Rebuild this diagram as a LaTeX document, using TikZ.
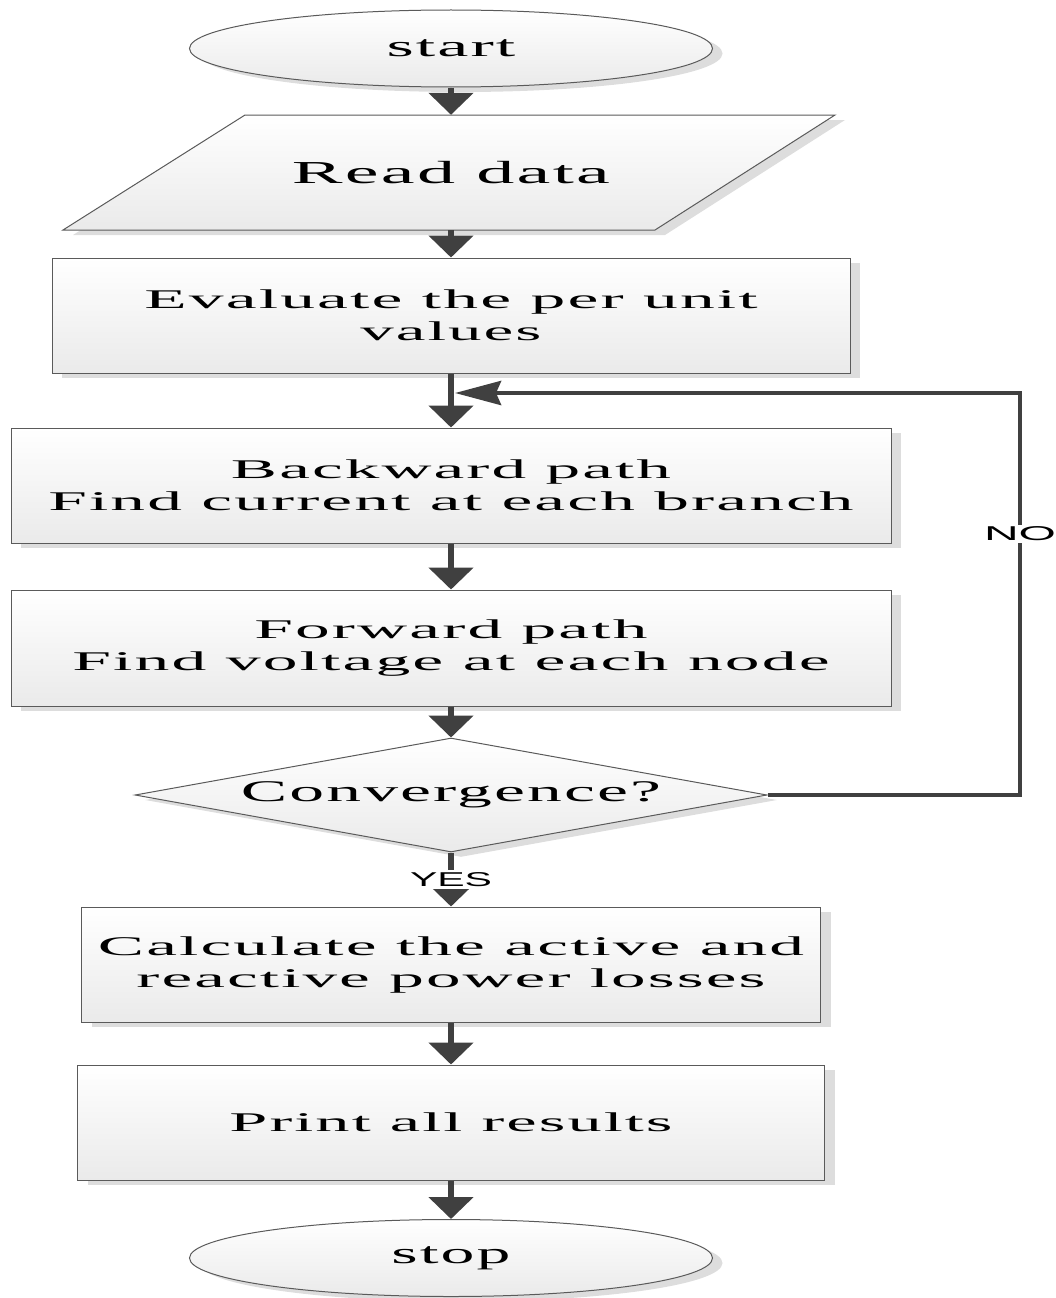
\documentclass[tikz,border=0pt]{standalone}
\usepackage{fontspec}
\setmainfont{Liberation Serif}[LetterSpace=3]
\setsansfont{Liberation Sans}
\usetikzlibrary{shapes.geometric,arrows.meta,shadows}
\newcommand{\fw}[2]{\resizebox{#1pt}{\height}{#2}}
\definecolor{arrowgray}{HTML}{404040}
\definecolor{edgegray}{HTML}{5A5A5A}
\definecolor{shadowgray}{HTML}{DDDDDD}
\definecolor{fillbottom}{HTML}{EAEAEA}
\begin{document}
\begin{tikzpicture}[x=1pt,y=-1pt,
  shapebase/.style={draw=edgegray, line width=1pt, top color=white, bottom color=fillbottom,
    drop shadow={shadow xshift=10pt, shadow yshift=-5pt, fill=shadowgray, opacity=1}},
  boxstyle/.style={shapebase, rectangle, inner sep=0pt, align=center, font=\fontsize{27}{32}\selectfont},
  termstyle/.style={shapebase, ellipse, inner sep=0pt, font=\fontsize{30}{32}\selectfont},
  decstyle/.style={shapebase, diamond, shape aspect=5.5, inner sep=0pt, font=\fontsize{30}{32}\selectfont},
  flow/.style={draw=arrowgray, line width=6.5pt, -{Triangle[length=22pt,width=44pt]}},
  loopline/.style={draw=arrowgray, line width=4.5pt, -{Stealth[length=46pt,width=24pt,inset=5pt]}},
  edgelabel/.style={fill=white, inner sep=2pt, font=\sffamily\fontsize{20}{20}\selectfont}]
\useasboundingbox (0,0) rectangle (1056,1298);

% start
\node[termstyle, minimum width=523pt, minimum height=77pt] (start) at (451,48.5) {\fw{129}{start}};

% read data (parallelogram)
\path[shapebase] (63,230) -- (245,115) -- (835,115) -- (655,230) -- cycle;
\node[rectangle, inner sep=0pt, minimum width=400pt, minimum height=115pt,
  font=\fontsize{32}{32}\selectfont] (read) at (451,172.5) {\fw{318}{Read data}};

% process boxes
\node[boxstyle, minimum width=798pt, minimum height=115pt] (eval) at (451,315.5)
  {\fw{613}{Evaluate the per unit}\\\fw{181}{values}};
\node[boxstyle, minimum width=880pt, minimum height=115pt] (back) at (451,485.5)
  {\fw{440}{Backward path}\\\fw{805}{Find current at each branch}};
\node[boxstyle, minimum width=880pt, minimum height=116pt] (fwd) at (451,648)
  {\fw{393}{Forward path}\\\fw{757}{Find voltage at each node}};

% decision
\node[decstyle, minimum width=632pt, minimum height=114pt] (conv) at (451,795) {\fw{420}{Convergence?}};

\node[boxstyle, minimum width=739pt, minimum height=115pt] (calc) at (451,964.5)
  {\fw{706}{Calculate the active and}\\\fw{629}{reactive power losses}};
\node[boxstyle, minimum width=747pt, minimum height=115pt] (print) at (451,1122.5)
  {\fw{443}{Print all results}};

% stop
\node[termstyle, minimum width=523pt, minimum height=77pt] (stop) at (451,1258) {\fw{119}{stop}};

% connectors
\draw[flow] (start) -- (read);
\draw[flow] (read) -- (eval);
\draw[flow] (eval) -- (back);
\draw[flow] (back) -- (fwd);
\draw[flow] (fwd) -- (conv);
\draw[flow] (conv) -- node[edgelabel, midway] {\fw{82}{YES}} (calc);
\draw[flow] (calc) -- (print);
\draw[flow] (print) -- (stop);

% loop back
\coordinate (c1) at (1020,795);
\coordinate (c2) at (1020,393);
\coordinate (looptip) at (455,393);
\draw[loopline] (conv.east) -- (c1) -- node[edgelabel, pos=0.65] {\fw{72}{NO}} (c2) -- (looptip);
\end{tikzpicture}
\end{document}
